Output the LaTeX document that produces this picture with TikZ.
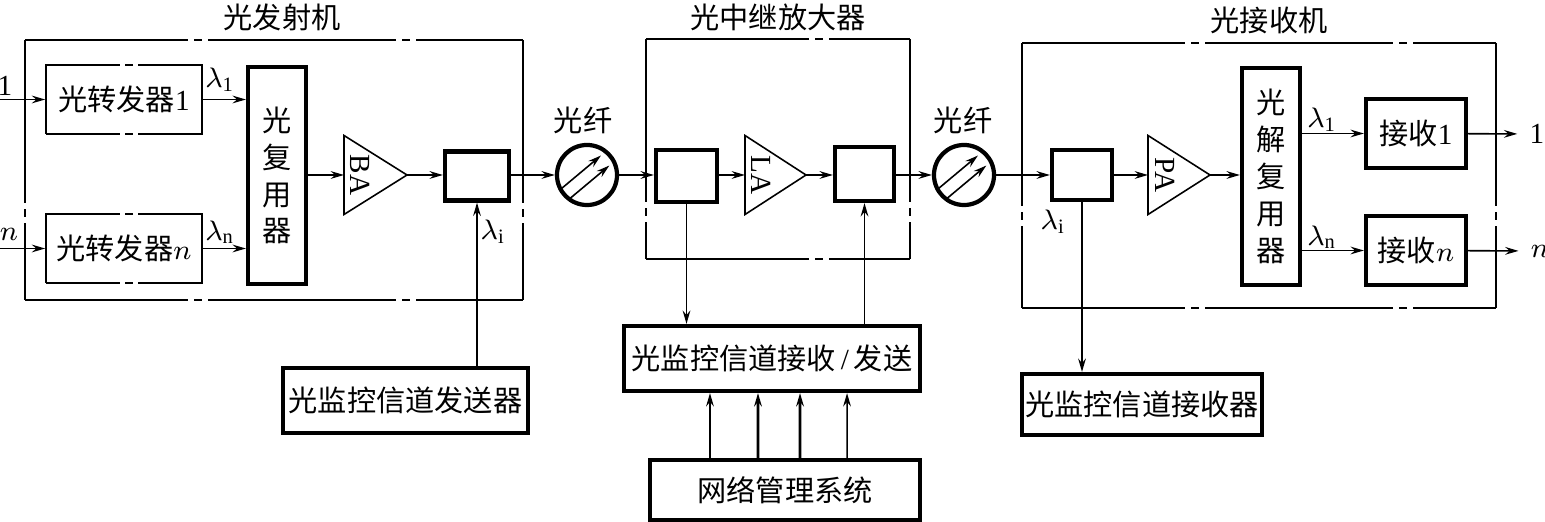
\documentclass[tikz,border=0pt]{standalone}
\usepackage{amsmath}
\usepackage{fontspec}
\setmainfont{Liberation Serif}
\newfontfamily\cjk{Noto Sans CJK SC}
\usetikzlibrary{arrows.meta}
\tikzset{
  box/.style={draw,line width=1.2pt,inner sep=0pt},
  thinbox/.style={draw,line width=0.45pt,inner sep=0pt,dash pattern=on 1.97cm off 0.05cm on 0.08cm off 0.05cm,dash phase=1.23cm},
  unitframe/.style={line width=0.45pt,dash pattern=on 1.88cm off 0.06cm on 0.08cm off 0.06cm,dash phase=0.25cm},
  vertbox/.style={box,minimum width=0.58cm,minimum height=2.17cm,align=center,font=\fontsize{8.3}{10.5}\selectfont\cjk},
  amp/.style={draw,line width=0.45pt},
  fiber/.style={draw,circle,line width=1.2pt,minimum size=0.6cm,inner sep=0pt},
  sig/.style={-{Stealth[length=3.8pt,width=2.2pt,inset=1.3pt]},line width=0.45pt}
}

\begin{document}
\begin{tikzpicture}[x=0.01cm,y=-0.01cm,font=\fontsize{8.3}{10.5}\selectfont]
  \useasboundingbox (0,0) rectangle (1545,522);
  \foreach \l/\t/\r/\b in {25/40/523/300,646/39/910/259,1022/43/1496/308} {
    \draw[unitframe] (\l,\t) -- (\r,\t);
    \draw[unitframe] (\l,\b) -- (\r,\b);
    \draw[unitframe] (\l,\t) -- (\l,\b);
    \draw[unitframe] (\r,\t) -- (\r,\b);
  }
  \node (tx) at (282,17) {\cjk 光发射机};
  \node (rep) at (778,17) {\cjk 光中继放大器};
  \node (rx) at (1269,20) {\cjk 光接收机};

  \node (i1) at (5,86) {1};
  \node (in) at (9,234) {$n$};
  \coordinate (a1) at (0,99.5);
  \coordinate (an) at (0,248.5);
  \node[thinbox,minimum width=1.56cm,minimum height=0.69cm] (t1) at (124,99.5) {{\cjk 光转发器}1};
  \node[thinbox,minimum width=1.56cm,minimum height=0.69cm] (tn) at (124,248.5) {{\cjk 光转发器}$n$};
  \node (l1) at (220,80) {$\lambda_\mathrm{1}$};
  \node (ln) at (220,232) {$\lambda_\mathrm{n}$};
  \node[vertbox] (mux) at (277,175.5) {光\\复\\用\\器};
  \draw[amp] (344,135.5) -- (407,175) -- (344,214.5) -- cycle;
  \coordinate (bain) at (344,175);
  \coordinate (baout) at (407,175);
  \node[rotate=-90] (ba) at (360,175) {BA};
  \node[box,minimum width=0.64cm,minimum height=0.49cm] (c1) at (477,176) {};
  \node (li) at (493,232) {$\lambda_\mathrm{i}$};

  \node[fiber] (f1) at (587,175) {};
  \node[fiber] (f2) at (964,175) {};
  \node (g1) at (583,120) {\cjk 光纤};
  \node (g2) at (963,120) {\cjk 光纤};
  \foreach \f in {f1,f2} {
    \draw[sig] ([shift={(-26.4,14.3)}]\f.center) -- ([shift={(14,-19.5)}]\f.center);
    \draw[sig] ([shift={(-17.9,24.2)}]\f.center) -- ([shift={(22.4,-9.5)}]\f.center);
  }

  \node[box,minimum width=0.61cm,minimum height=0.52cm] (c2) at (686.5,176) {};
  \draw[amp] (745,135.5) -- (806,175) -- (745,214.5) -- cycle;
  \coordinate (lain) at (745,175);
  \coordinate (laout) at (806,175);
  \node[rotate=-90] (la) at (761,175) {LA};
  \node[box,minimum width=0.59cm,minimum height=0.54cm] (c3) at (864.5,174) {};

  \node[box,minimum width=0.6cm,minimum height=0.5cm] (c4) at (1082,175) {};
  \node (li2) at (1053,222) {$\lambda_\mathrm{i}$};
  \draw[amp] (1148,135.5) -- (1210,175) -- (1148,214.5) -- cycle;
  \coordinate (pain) at (1148,175);
  \coordinate (paout) at (1210,175);
  \node[rotate=-90] (pa) at (1165,175) {PA};
  \node[vertbox] (dmx) at (1271,176.5) {光\\解\\复\\用\\器};
  \node (l1r) at (1322,120) {$\lambda_\mathrm{1}$};
  \node (lnr) at (1322,237) {$\lambda_\mathrm{n}$};
  \node[box,minimum width=1cm,minimum height=0.69cm] (r1) at (1416,133.5) {{\cjk 接收}1};
  \node[box,minimum width=1cm,minimum height=0.69cm] (rn) at (1416,250.5) {{\cjk 接收}$n$};
  \node (o1) at (1537,134) {1};
  \node (on) at (1540,251) {$n$};

  \node[box,minimum width=2.45cm,minimum height=0.65cm] (sx) at (405.5,400.5) {\cjk 光监控信道发送器};
  \node[box,minimum width=2.96cm,minimum height=0.65cm] (sr) at (772,358.5) {{\cjk 光监控信道接收}\,/\,{\cjk 发送}};
  \node[box,minimum width=2.7cm,minimum height=0.6cm] (nm) at (785,490) {\cjk 网络管理系统};
  \node[box,minimum width=2.4cm,minimum height=0.61cm] (sv) at (1142,404.5) {\cjk 光监控信道接收器};

  \draw[sig] (a1) -- (t1);
  \draw[sig] (an) -- (tn);
  \draw[sig] (t1) -- (t1 -| mux.west);
  \draw[sig] (tn) -- (tn -| mux.west);
  \draw[sig] (mux.east |- bain) -- (bain);
  \draw[sig] (baout) -- (baout -| c1.west);
  \draw[sig] (c1.east |- f1) -- (f1);
  \draw[sig] (f1) -- (f1 -| c2.west);
  \draw[sig] (c2.east |- lain) -- (lain);
  \draw[sig] (laout) -- (laout -| c3.west);
  \draw[sig] (c3.east |- f2) -- (f2);
  \draw[sig] (f2) -- (c4);
  \draw[sig] (c4) -- (pain);
  \draw[sig] (paout) -- (paout -| dmx.west);
  \draw[sig] (dmx.east |- r1) -- (r1);
  \draw[sig] (dmx.east |- rn) -- (rn);
  \draw[sig] (r1) -- (o1);
  \draw[sig] (rn) -- (on);
  \draw[sig] (c1.south |- sx.north) -- (c1.south);
  \draw[sig] (c2.south) -- (c2.south |- sr.north);
  \draw[sig] (c3.south |- sr.north) -- (c3.south);
  \draw[sig] (c4.south) -- (c4.south |- sv.north);
  \foreach \d/\e/\w in {-0.75/-0.62/0.45pt,-0.27/-0.14/0.8pt,0.15/0.28/0.8pt,0.62/0.75/0.45pt}
    \draw[sig,line width=\w] ([xshift=\d cm]nm.north) -- ([xshift=\e cm]sr.south);
\end{tikzpicture}
\end{document}
